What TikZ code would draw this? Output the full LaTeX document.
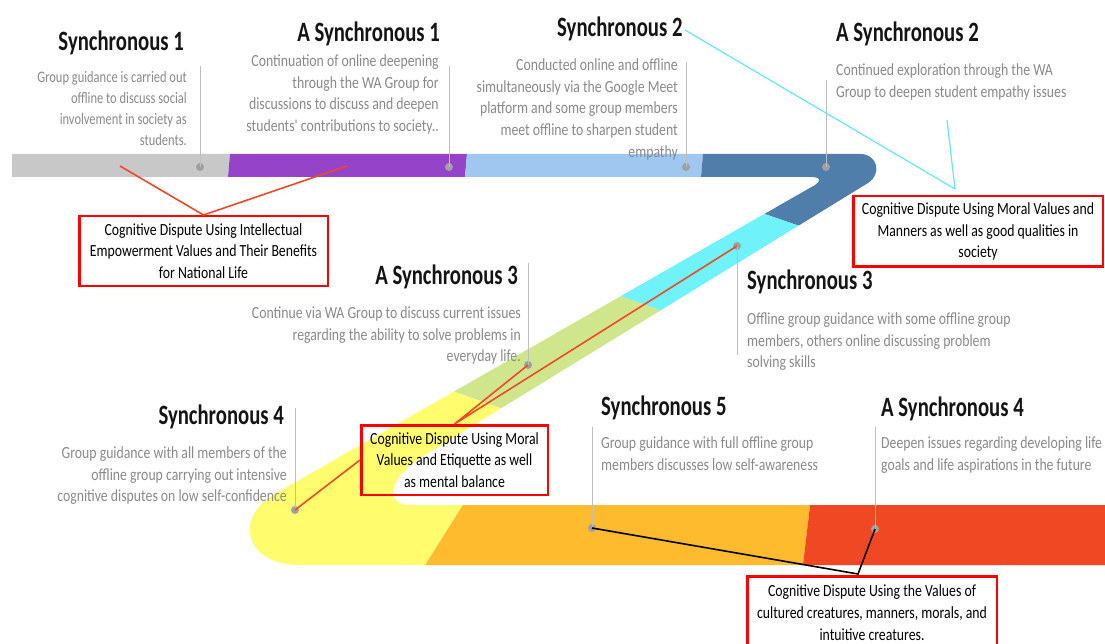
\documentclass[tikz,border=0pt]{standalone}
\usepackage{fontspec}
\setmainfont{Carlito}
\newfontfamily\hfont[FakeStretch=0.74]{Carlito}
\newfontfamily\bfont[FakeStretch=0.81]{Carlito}
\newfontfamily\sfont[FakeStretch=0.78]{Carlito}
\definecolor{cgray}{RGB}{200,200,200}
\definecolor{cpurple}{RGB}{149,67,201}
\definecolor{clblue}{RGB}{160,199,240}
\definecolor{cdblue}{RGB}{80,126,170}
\definecolor{ccyan}{RGB}{111,242,250}
\definecolor{cgreen}{RGB}{208,230,140}
\definecolor{cyellow}{RGB}{255,253,110}
\definecolor{corange}{RGB}{253,187,45}
\definecolor{cred}{RGB}{240,72,35}
\definecolor{textgray}{RGB}{138,138,138}
\definecolor{conred}{RGB}{240,72,40}
\definecolor{boxred}{RGB}{255,0,0}
\definecolor{dotgray}{RGB}{160,160,160}
\definecolor{linegray}{RGB}{190,190,190}
\definecolor{cyanline}{RGB}{100,230,245}
\begin{document}
\begin{tikzpicture}[x=1pt,y=-1pt,
  heading/.style={font=\hfont\bfseries\fontsize{28}{30}\selectfont, text=black!92, inner sep=0},
  body/.style={font=\bfont\fontsize{17}{21.7}\selectfont, text=textgray, inner sep=0},
  smallbody/.style={font=\sfont\fontsize{16}{21.2}\selectfont, text=textgray, inner sep=0},
  rbox/.style={draw=boxred, line width=2.5pt, font=\bfont\fontsize{17}{21.7}\selectfont, text=black, align=center, inner sep=0},
  dot/.style={circle, fill=dotgray, inner sep=0, minimum size=8pt},
  vline/.style={draw=linegray, line width=1pt},
  redcon/.style={draw=conred, line width=1.6pt},
  blackcon/.style={draw=black, line width=1.6pt},
  cyancon/.style={draw=cyanline, line width=1.2pt}]
\useasboundingbox (0,0) rectangle (1105,644);
\fill[white] (0,0) rectangle (1105,644);

% ---- band ----
\begin{scope}
\clip (12,154) -- (860,154) .. controls (878,154) and (882,174.4) .. (868,183)
  -- (425,455) .. controls (385,480) and (385,505) .. (410,505)
  -- (1110,505) -- (1110,565) -- (300,565)
  .. controls (245,565) and (233,518) .. (275,494)
  -- (815,185) .. controls (822,180) and (820,177) .. (810,177)
  -- (12,177) -- cycle;
\fill[cgray] (0,150) -- (230.3,150) -- (227.7,181) -- (0,181) -- cycle;
\fill[cpurple] (230.3,150) -- (467.3,150) -- (464.7,181) -- (227.7,181) -- cycle;
\fill[clblue] (467.3,150) -- (703.3,150) -- (700.7,181) -- (464.7,181) -- cycle;
\fill[cdblue] (703.3,150) -- (900,140) -- (900,255) -- (840,240) -- (730,202) -- (700.7,181) -- cycle;
\fill[ccyan] (730,202) -- (840,240) -- (700,324) -- (580,282) -- cycle;
\fill[cgreen] (580,282) -- (700,324) -- (545,424) -- (410,376) -- cycle;
\fill[cyellow] (200,300) -- (410,376) -- (545,424) -- (469.3,495) -- (422,570) -- (200,570) -- cycle;
\fill[corange] (469.3,495) -- (811.3,495) -- (802.4,570) -- (422,570) -- cycle;
\fill[cred] (811.3,495) -- (1110,495) -- (1110,570) -- (802.4,570) -- cycle;
\end{scope}

% ---- headings ----
\node[heading, anchor=base east] (hs1) at (184,51) {Synchronous 1};
\node[heading, anchor=base east] (has1) at (440,42) {A Synchronous 1};
\node[heading, anchor=base west] (hs2) at (557,37) {Synchronous 2};
\node[heading, anchor=base west] (has2) at (836,42) {A Synchronous 2};
\node[heading, anchor=base east] (has3) at (518,284) {A Synchronous 3};
\node[heading, anchor=base west] (hs3) at (747,290) {Synchronous 3};
\node[heading, anchor=base east] (hs4) at (284,424) {Synchronous 4};
\node[heading, anchor=base west] (hs5) at (601,415) {Synchronous 5};
\node[heading, anchor=base west] (has4) at (881,416) {A Synchronous 4};

% ---- descriptions ----
\node[smallbody, align=right, anchor=north east] (ts1) at (187,71) {Group guidance is carried out\\offline to discuss social\\involvement in society as\\students.};
\node[body, align=right, anchor=north east] (tas1) at (439,54.5) {Continuation of online deepening\\through the WA Group for\\discussions to discuss and deepen\\students' contributions to society..};
\node[body, align=right, anchor=north east] (ts2) at (678,58.5) {Conducted online and offline\\simultaneously via the Google Meet\\platform and some group members\\meet offline to sharpen student\\empathy};
\node[body, align=left, anchor=north west] (tas2) at (836,63.5) {Continued exploration through the WA\\Group to deepen student empathy issues};
\node[body, align=right, anchor=north east] (tas3) at (521,306.5) {Continue via WA Group to discuss current issues\\regarding the ability to solve problems in\\everyday life.};
\node[body, align=left, anchor=north west] (ts3) at (747,312.5) {Offline group guidance with some offline group\\members, others online discussing problem\\solving skills};
\node[body, align=right, anchor=north east] (ts4) at (287,446.5) {Group guidance with all members of the\\offline group carrying out intensive\\cognitive disputes on low self-confidence};
\node[body, align=left, anchor=north west] (ts5) at (601,436.5) {Group guidance with full offline group\\members discusses low self-awareness};
\node[body, align=left, anchor=north west] (tas4) at (881,436.5) {Deepen issues regarding developing life\\goals and life aspirations in the future};

% ---- dots and stems ----
\node[dot] (ds1) at (200,167) {};
\node[dot] (das1) at (449,167) {};
\node[dot] (ds2) at (686,167) {};
\node[dot] (das2) at (826,167) {};
\node[dot] (das3) at (528,365) {};
\node[dot] (ds3) at (737,246) {};
\node[dot] (ds4) at (295,510) {};
\node[dot] (ds5) at (592,528) {};
\node[dot] (das4) at (875,529) {};
\coordinate (ss1) at (200,66);
\coordinate (sas1) at (449,66);
\coordinate (ss2) at (686,62);
\coordinate (sas2) at (826,80);
\coordinate (sas3) at (528,263);
\coordinate (ss3) at (737,355);
\coordinate (ss4) at (295,408);
\coordinate (ss5) at (592,427);
\coordinate (sas4) at (875,427);
\draw[vline] (ss1) -- (ds1.center);
\draw[vline] (sas1) -- (das1.center);
\draw[vline] (ss2) -- (ds2.center);
\draw[vline] (sas2) -- (das2.center);
\draw[vline] (sas3) -- (das3.center);
\draw[vline] (ss3) -- (ds3.center);
\draw[vline] (ss4) -- (ds4.center);
\draw[vline] (ss5) -- (ds5.center);
\draw[vline] (sas4) -- (das4.center);

% ---- boxes ----
\node[rbox, minimum width=248.5pt, minimum height=69.5pt] (b1) at (203.5,251) {\raisebox{-1.5pt}{}Cognitive Dispute Using Intellectual\\Empowerment Values and Their Benefits\\for National Life};
\node[rbox, minimum width=249.5pt, minimum height=70.5pt] (b2) at (978,231.5) {Cognitive Dispute Using Moral Values and\\Manners as well as good qualities in\\society};
\node[rbox, minimum width=186.5pt, minimum height=69.5pt] (b3) at (454.5,460) {Cognitive Dispute Using Moral\\Values and Etiquette as well\\as mental balance};
\node[rbox, minimum width=249.5pt, minimum height=72.5pt] (b4) at (872,612.5) {Cognitive Dispute Using the Values of\\cultured creatures, manners, morals, and\\intuitive creatures.};

% ---- connectors ----
\coordinate (r1a) at (120,166);
\coordinate (r1b) at (347,166);
\draw[redcon] (r1a) -- (b1.north) -- (r1b);
\draw[redcon] (das3.center) -- (b3.north) -- (ds3.center);
\draw[redcon] (ds4.center) -- (b3.west);
\coordinate (b4a) at (858,574);
\draw[blackcon] (ds5.center) -- (b4a) -- (das4.center);
\coordinate (c1) at (685,30);
\coordinate (c2) at (947,120);
\coordinate (c0) at (955,189);
\draw[cyancon] (c1) -- (c0);
\draw[cyancon] (c2) -- (c0);
\end{tikzpicture}
\end{document}
